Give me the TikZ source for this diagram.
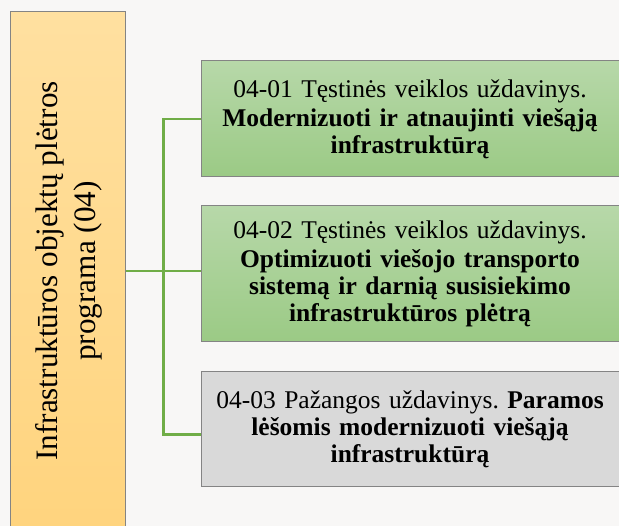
\documentclass[tikz,border=0pt]{standalone}
\usepackage{fontspec}
\setmainfont{Liberation Serif}
\usetikzlibrary{positioning}
\definecolor{paperbg}{RGB}{248,247,246}
\definecolor{progtop}{RGB}{255,224,160}
\definecolor{progbot}{RGB}{255,212,126}
\definecolor{tasktop}{RGB}{183,216,169}
\definecolor{taskbot}{RGB}{155,202,133}
\definecolor{taskgray}{RGB}{217,217,217}
\definecolor{edgegray}{RGB}{132,132,132}
\definecolor{linkgreen}{RGB}{112,173,71}

\tikzset{
  taskbox/.style={draw=edgegray, line width=1pt, minimum width=418pt, text width=410pt, align=center, inner sep=3pt, font=\fontsize{25.5}{27}\selectfont\frenchspacing},
  tasstine/.style={taskbox, top color=tasktop, bottom color=taskbot},
  pazanga/.style={taskbox, fill=taskgray},
  link/.style={linkgreen, line width=2.2pt}
}

\begin{document}
\begin{tikzpicture}[x=1pt, y=-1pt]
\path[use as bounding box, fill=paperbg] (0,0) rectangle (619,526);

% Programme
\node[draw=edgegray, line width=1pt, top color=progtop, bottom color=progbot, minimum width=115pt, minimum height=518pt] (prog) at (67.5,271) {};
\node[rotate=90, align=center, font=\fontsize{31.2}{38}\selectfont] (proglabel) at ([xshift=1.5pt]prog.center) {Infrastruktūros objektų plėtros\\programa (04)};

% Tasks
\node[tasstine, minimum height=116pt] (t1) at (410,119) {
04-01 Tęstinės veiklos uždavinys.\\[2pt]
\bfseries Modernizuoti ir atnaujinti viešąją\\
infrastruktūrą
};
\node[tasstine, minimum height=136pt, below=28pt of t1] (t2) {
04-02 Tęstinės veiklos uždavinys.\\[2pt]
\bfseries Optimizuoti viešojo transporto\\
sistemą ir darnią susisiekimo\\
infrastruktūros plėtrą
};
\node[pazanga, minimum height=115pt, below=29pt of t2] (t3) {
04-03 Pažangos uždavinys. \textbf{Paramos}\\
\bfseries lėšomis modernizuoti viešąją\\
infrastruktūrą
};

% Links
\draw[link] (prog.east) -- ++(38,0) coordinate (hub);
\draw[link] (t1.west) -| (hub) |- ([yshift=-5pt]t3.west);
\draw[link] (hub) -- (hub -| t2.west);
\end{tikzpicture}
\end{document}
